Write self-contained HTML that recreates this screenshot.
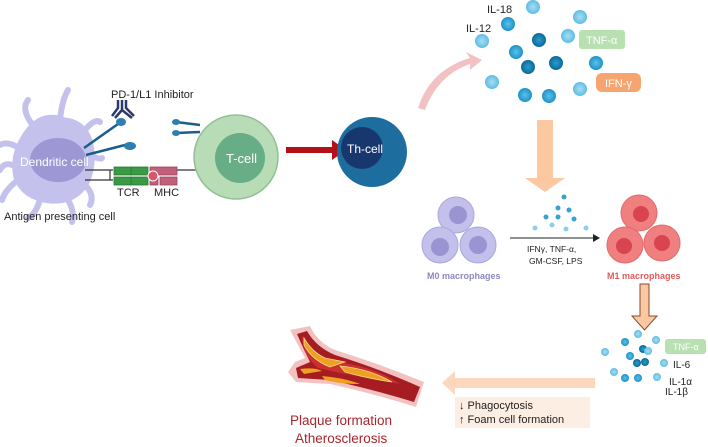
<!DOCTYPE html><html><head><style>body{margin:0;background:#fff}svg{display:block;font-family:"Liberation Sans",sans-serif}</style></head><body>
<svg width="708" height="447" viewBox="0 0 708 447">
<defs><radialGradient id="b1"><stop offset="0" stop-color="#a9def2"/><stop offset="1" stop-color="#5fbde3"/></radialGradient>
<radialGradient id="b2"><stop offset="0" stop-color="#5cc0e8"/><stop offset="1" stop-color="#1e93c8"/></radialGradient>
<radialGradient id="b3"><stop offset="0" stop-color="#2a9ccd"/><stop offset="1" stop-color="#0c6a98"/></radialGradient></defs>
<g fill="#c4c2ec" stroke="#c4c2ec" stroke-linecap="round">
<path d="M30 125 Q45 110 65 118 Q85 120 92 140 Q98 165 88 185 Q75 205 50 203 Q22 200 14 178 Q8 150 30 125Z"/>
<g stroke-width="6" fill="none"><path d="M60 120 Q62 100 68 90"/><path d="M35 128 Q20 110 28 100"/><path d="M22 150 Q8 140 0 145"/><path d="M18 180 Q5 190 2 200"/><path d="M40 200 Q35 215 28 218"/><path d="M68 200 Q75 212 72 222"/><path d="M85 185 Q95 195 90 205"/><path d="M85 130 Q95 118 100 122"/><path d="M90 155 Q100 160 102 158"/><path d="M12 165 Q4 162 0 170"/></g></g>
<ellipse cx="58" cy="160" rx="28" ry="22" fill="#9d98d4"/>
<text x="20" y="166" fill="#fff" font-size="12">Dendritic cell</text>
<text x="4" y="220" font-size="11" fill="#222">Antigen presenting cell</text>
<text x="111" y="98" font-size="11" fill="#222">PD-1/L1 Inhibitor</text>
<g stroke="#2a3a6a" stroke-width="2.5" fill="none"><path d="M122 100 V110 L115 118 M122 110 L132 118 M126 100 V108 L134 116 M118 100 V108 L112 116"/></g>
<g stroke="#1a5f8a" stroke-width="2.5" fill="none"><path d="M84 148 L118 124"/><path d="M86 155 L125 145"/><path d="M200 125 L176 122"/><path d="M200 132 L176 133"/></g>
<g fill="#2d7fb0"><ellipse cx="121" cy="122" rx="5" ry="4"/><ellipse cx="130" cy="146" rx="6" ry="4"/><ellipse cx="176" cy="122" rx="4" ry="3"/><ellipse cx="176" cy="133" rx="4" ry="3"/></g>
<g stroke="#333" fill="none" stroke-width="1.2"><path d="M85 170 H113 M85 180 H113 M110 170 V180"/><path d="M177 170 H200"/></g>
<g fill="#3b9a45" stroke="#2a7a33" stroke-width="0.8"><rect x="114" y="167" width="17" height="8"/><rect x="131" y="167" width="17" height="8"/><rect x="114" y="177" width="17" height="8"/><rect x="131" y="177" width="17" height="8"/></g>
<g fill="#c0607a" stroke="#a04560" stroke-width="0.8"><rect x="150" y="167" width="27" height="8"/><rect x="160" y="177" width="17" height="8"/><rect x="150" y="177" width="8" height="8"/></g>
<circle cx="153" cy="176" r="5" fill="#d8566a" stroke="#fff"/>
<text x="117" y="196" font-size="11" fill="#222">TCR</text><text x="154" y="196" font-size="11" fill="#222">MHC</text>
<circle cx="236" cy="157" r="42" fill="#b7dcb6" stroke="#93bf95" stroke-width="1.5"/>
<circle cx="240" cy="158" r="25" fill="#67ad86"/>
<text x="226" y="163" fill="#fff" font-size="13">T-cell</text>
<path d="M286 147 H332 V140 L346 150 L332 160 V153 H286Z" fill="#b31018"/>
<circle cx="372" cy="152" r="35" fill="#1d6d9f"/><circle cx="362" cy="148" r="21" fill="#19376f"/>
<text x="347" y="153" fill="#fff" font-size="12">Th-cell</text>
<path d="M418 108 Q430 70 470 58 L466 52 L482 60 L470 70 L470 64 Q438 75 425 110Z" fill="#f2c1c3"/>
<g><circle cx="533" cy="7" r="7" fill="url(#b1)"/><circle cx="508" cy="24" r="7" fill="url(#b2)"/><circle cx="580" cy="17" r="7" fill="url(#b1)"/><circle cx="539" cy="40" r="7" fill="url(#b3)"/><circle cx="568" cy="36" r="7" fill="url(#b1)"/><circle cx="482" cy="41" r="7" fill="url(#b1)"/><circle cx="516" cy="52" r="7" fill="url(#b2)"/><circle cx="556" cy="63" r="7" fill="url(#b3)"/><circle cx="528" cy="67" r="7" fill="url(#b3)"/><circle cx="596" cy="63" r="7" fill="url(#b2)"/><circle cx="492" cy="82" r="7" fill="url(#b1)"/><circle cx="525" cy="95" r="7" fill="url(#b2)"/><circle cx="549" cy="96" r="7" fill="url(#b2)"/><circle cx="580" cy="89" r="7" fill="url(#b1)"/></g>
<text x="487" y="13" font-size="11" fill="#222">IL-18</text><text x="466" y="32" font-size="11" fill="#222">IL-12</text>
<rect x="579" y="30" width="46" height="19" rx="3" fill="#b8e0b1"/><text x="586" y="44" font-size="11" fill="#fff">TNF-α</text>
<rect x="596" y="73" width="45" height="19" rx="6" fill="#f6a571"/><text x="605" y="87" font-size="11" fill="#fff">IFN-γ</text>
<path d="M537 120 H553 V178 H565 L545 192 L525 178 H537Z" fill="#fbc8a2"/>
<g fill="#c3c0ec" stroke="#aaa6dc"><circle cx="456" cy="215" r="18"/><circle cx="440" cy="245" r="18"/><circle cx="478" cy="245" r="18"/></g>
<g fill="#9a95d2"><circle cx="458" cy="215" r="9"/><circle cx="440" cy="247" r="9"/><circle cx="478" cy="245" r="9"/></g>
<text x="427" y="279" font-size="9" font-weight="bold" fill="#8c88c2">M0 macrophages</text>
<g fill="#36a2d3"><circle cx="564" cy="197" r="2.5"/><circle cx="558" cy="208" r="2.5"/><circle cx="569" cy="210" r="2.5"/><circle cx="546" cy="217" r="2.5"/><circle cx="558" cy="217" r="2.5"/><circle cx="574" cy="219" r="2.5"/><g fill="#8ccfe8"><circle cx="535" cy="228" r="2.5"/><circle cx="552" cy="225" r="2.5"/><circle cx="566" cy="229" r="2.5"/><circle cx="586" cy="228" r="2.5"/></g></g>
<path d="M510 238 H595" stroke="#222" stroke-width="1"/><path d="M593 234 L600 238 L593 242Z" fill="#222"/>
<text x="527" y="252" font-size="8.5" fill="#222">IFNγ, TNF-α,</text><text x="529" y="264" font-size="8.5" fill="#222">GM-CSF, LPS</text>
<g fill="#f07f80" stroke="#e36a6c"><circle cx="639" cy="213" r="18"/><circle cx="625" cy="245" r="18"/><circle cx="662" cy="243" r="18"/></g>
<g fill="#d84450"><circle cx="641" cy="214" r="8"/><circle cx="624" cy="246" r="8"/><circle cx="662" cy="243" r="8"/></g>
<text x="607" y="279" font-size="9" font-weight="bold" fill="#e05c5c">M1 macrophages</text>
<path d="M640 284 H649 V316 H657 L644.5 330 L632 316 H640Z" fill="#fbc8a2" stroke="#8a4a30" stroke-width="1"/>
<g><circle cx="638" cy="334" r="4" fill="url(#b1)"/><circle cx="656" cy="340" r="4" fill="url(#b1)"/><circle cx="625" cy="342" r="4" fill="url(#b2)"/><circle cx="643" cy="349" r="4" fill="url(#b3)"/><circle cx="605" cy="352" r="4" fill="url(#b1)"/><circle cx="630" cy="356" r="4" fill="url(#b2)"/><circle cx="648" cy="351" r="4" fill="url(#b1)"/><circle cx="637" cy="363" r="4" fill="url(#b3)"/><circle cx="645" cy="362" r="4" fill="url(#b3)"/><circle cx="664" cy="363" r="4" fill="url(#b1)"/><circle cx="614" cy="372" r="4" fill="url(#b1)"/><circle cx="625" cy="378" r="4" fill="url(#b2)"/><circle cx="638" cy="378" r="4" fill="url(#b2)"/><circle cx="657" cy="377" r="4" fill="url(#b1)"/></g>
<rect x="665" y="339" width="41" height="15" rx="3" fill="#b8e0b1"/><text x="673" y="350" font-size="9" fill="#fff">TNF-α</text>
<text x="673" y="358" font-size="10" fill="#222" dy="10">IL-6</text><text x="669" y="375" font-size="10" fill="#222" dy="10">IL-1α</text><text x="665" y="385" font-size="10" fill="#222" dy="10">IL-1β</text>
<path d="M595 378 H455 V371 L442 383 L455 395 V388 H595Z" fill="#fcd7bd"/>
<rect x="455" y="397" width="135" height="31" fill="#fdeee3"/>
<text x="459" y="409" font-size="11" fill="#222">↓ Phagocytosis</text><text x="459" y="423" font-size="11" fill="#222">↑ Foam cell formation</text>
<path d="M290 330 L310 326 Q318 343 335 350 Q380 364 424 382 L416 407 Q375 394 330 384 L296 382 L288 372 L295 362 L305 358 Q298 345 290 330Z" fill="#f3c2c0"/>
<path d="M297 334 L307 331 Q316 347 335 355 Q380 369 420 387 L414 402 Q375 390 330 380 L298 378 L296 368 L310 362 Q303 348 297 334Z" fill="#a51c22"/>
<path d="M302 336 Q312 352 328 360 L350 364 Q380 370 400 384 Q370 378 340 373 L318 368 Q303 356 302 336Z" fill="#c9302f"/>
<path d="M304 338 Q312 352 325 358 L345 362 L330 367 Q312 360 304 345Z" fill="#f0a020" stroke="#f8d890" stroke-width="0.8"/>
<path d="M340 366 Q370 369 392 382 Q365 378 345 372Z" fill="#f0a020" stroke="#f8d890" stroke-width="0.8"/>
<path d="M300 369 Q315 367 322 371 L304 374Z" fill="#f0a020"/>
<path d="M322 376 Q345 378 360 384 Q340 384 325 380Z" fill="#f0a020"/>
<text x="290" y="425" font-size="13.5" fill="#a8262c">Plaque formation</text>
<text x="295" y="443" font-size="13.5" fill="#a8262c">Atherosclerosis</text>
</svg></body></html>
